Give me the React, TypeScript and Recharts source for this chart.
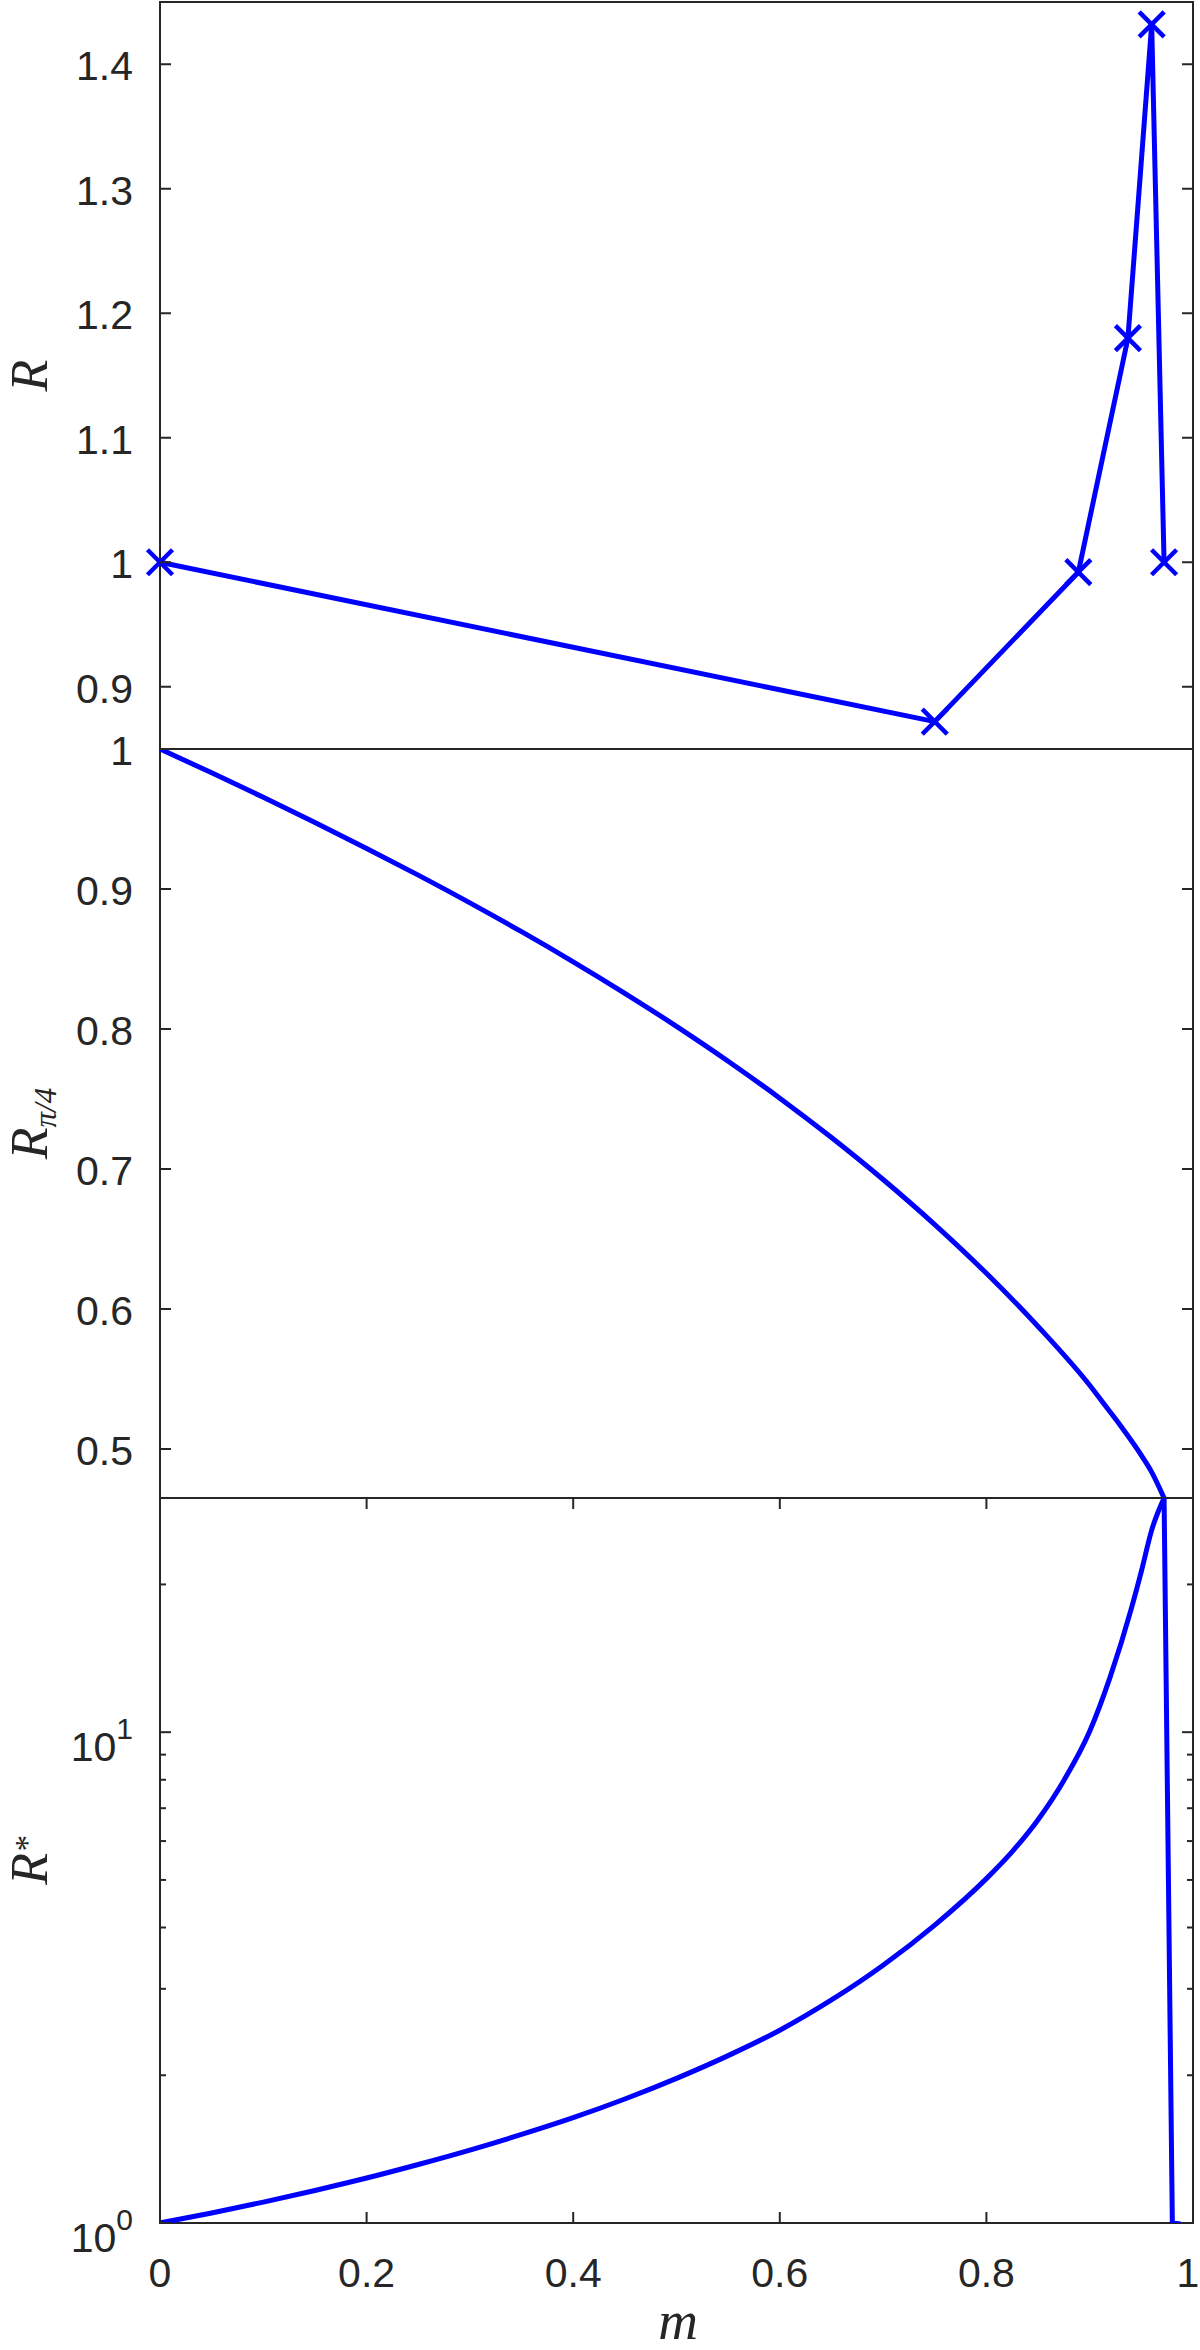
import { LineChart, Line, XAxis, YAxis, ReferenceArea, Label } from "recharts";

// top panel: R at m = 1 - 1/n^2
const mR = [0, 0.75, 0.889, 0.937, 0.96, 0.972];
const valR = [1.0, 0.872, 0.992, 1.18, 1.432, 1.0];

// middle panel: R_{pi/4}
const mQuarter = [0, 0.05, 0.1, 0.15, 0.2, 0.25, 0.3, 0.35, 0.4, 0.45, 0.5, 0.55, 0.6, 0.65, 0.7, 0.75, 0.8, 0.85, 0.9, 0.915, 0.93, 0.95, 0.96, 0.972];
const valQuarter = [1.0, 0.983, 0.9655, 0.9475, 0.929, 0.9099, 0.8901, 0.8695, 0.848, 0.8255, 0.8019, 0.777, 0.7506, 0.7225, 0.6925, 0.6603, 0.6255, 0.5875, 0.5455, 0.531, 0.5165, 0.4955, 0.4835, 0.465];

// bottom panel: R* (log axis), rising branch then the drop after the peak
const mStar = [0, 0.05, 0.1, 0.15, 0.2, 0.25, 0.3, 0.35, 0.4, 0.45, 0.5, 0.55, 0.6, 0.65, 0.7, 0.75, 0.8, 0.825, 0.85, 0.875, 0.9, 0.92, 0.94, 0.95, 0.96, 0.972, 0.98, 0.988];
const valStar = [1.0, 1.048, 1.103, 1.165, 1.235, 1.316, 1.408, 1.515, 1.639, 1.789, 1.971, 2.193, 2.47, 2.847, 3.351, 4.046, 5.031, 5.711, 6.632, 7.973, 10.04, 12.99, 17.77, 21.27, 25.8, 30.0, 1.0, 0.995];
const starPeakIndex = 25;

const xTicks = [0, 0.2, 0.4, 0.6, 0.8, 1];
const rTicks = [0.9, 1, 1.1, 1.2, 1.3, 1.4];
const quarterTicks = [0.5, 0.6, 0.7, 0.8, 0.9, 1];
const starMajor = [1, 10];
const starMinor = [2, 3, 4, 5, 6, 7, 8, 9, 20, 30];

const dataR = mR.map((m, i) => ({ m, v: valR[i] }));
const dataQuarter = mQuarter.map((m, i) => ({ m, v: valQuarter[i] }));
const dataStar = mStar.map((m, i) => ({ m, v: valStar[i] }));
const dataStarRise = dataStar.slice(0, starPeakIndex + 1);
const dataStarDrop = dataStar.slice(starPeakIndex);

const AX = "#262626";
const BLUE = "#0000ff";
const PLOT_W = 1033;
const tickFont = "'Liberation Sans', Arial, Helvetica, sans-serif";
const titleFont = "'Liberation Serif', 'Times New Roman', serif";
const TITLE_X = 47;

function xTick(plotH: number, withLabel: boolean) {
  return (p: any) => {
    const { x, y, payload } = p;
    // keep the last label inside the page edge
    const lx = payload.value === 1 ? x - 5 : x;
    return (
      <g>
        <line x1={x} y1={y} x2={x} y2={y - 11} stroke={AX} strokeWidth={2} />
        <line x1={x} y1={y - plotH} x2={x} y2={y - plotH + 11} stroke={AX} strokeWidth={2} />
        {withLabel && (
          <text x={lx} y={y + 64} textAnchor="middle" fontFamily={tickFont} fontSize={41} fill={AX}>
            {String(payload.value)}
          </text>
        )}
      </g>
    );
  };
}

function yTick(p: any) {
  const { x, y, payload } = p;
  return (
    <g>
      <line x1={x} y1={y} x2={x + 11} y2={y} stroke={AX} strokeWidth={2} />
      <line x1={x + PLOT_W} y1={y} x2={x + PLOT_W - 11} y2={y} stroke={AX} strokeWidth={2} />
      <text x={x - 27} y={y + 16} textAnchor="end" fontFamily={tickFont} fontSize={41} fill={AX}>
        {String(payload.value)}
      </text>
    </g>
  );
}

function logTick(p: any) {
  const { x, y, payload } = p;
  const v = payload.value;
  const major = starMajor.includes(v);
  const len = major ? 11 : 6;
  return (
    <g>
      <line x1={x} y1={y} x2={x + len} y2={y} stroke={AX} strokeWidth={2} />
      <line x1={x + PLOT_W} y1={y} x2={x + PLOT_W - len} y2={y} stroke={AX} strokeWidth={2} />
      {major && (
        <text x={x - 27} y={y + 29} textAnchor="end" fontFamily={tickFont} fontSize={41} fill={AX}>
          10
          <tspan fontSize={30} dy={-22}>
            {String(Math.round(Math.log10(v)))}
          </tspan>
        </text>
      )}
    </g>
  );
}

function Cross(p: any) {
  const { cx, cy } = p;
  if (cx == null || cy == null) return <g />;
  const s = 12.5;
  return (
    <g>
      <line x1={cx - s} y1={cy - s} x2={cx + s} y2={cy + s} stroke={BLUE} strokeWidth={4.5} />
      <line x1={cx - s} y1={cy + s} x2={cx + s} y2={cy - s} stroke={BLUE} strokeWidth={4.5} />
    </g>
  );
}

function yTitle(cy: number, main: string, sub: string, dy: number, subSize: number) {
  return () => (
    <text
      x={TITLE_X}
      y={cy}
      transform={`rotate(-90 ${TITLE_X} ${cy})`}
      textAnchor="middle"
      fontFamily={titleFont}
      fontStyle="italic"
      fontSize={52}
      fill={AX}
    >
      {main}
      {sub && (
        <tspan fontSize={subSize} dy={dy}>
          {sub}
        </tspan>
      )}
    </text>
  );
}

export default function App() {
  return (
    <div style={{ position: "absolute", left: 0, top: 0, width: 1200, height: 2350, background: "#fff" }}>
      <div style={{ position: "absolute", left: 0, top: 0 }}>
        <LineChart width={1200} height={760} data={dataR} margin={{ top: 2, right: 7, bottom: 11, left: 0 }}>
          <XAxis dataKey="m" type="number" domain={[0, 1]} ticks={xTicks} interval={0} height={0}
            tickSize={0} tickMargin={0} axisLine={false} tickLine={false} tick={xTick(747, false)} />
          <YAxis type="number" domain={[0.85, 1.45]} ticks={rTicks} interval={0} width={160}
            tickSize={0} tickMargin={0} axisLine={false} tickLine={false} tick={yTick}>
            <Label content={yTitle(375.5, "R", "", 0, 0)} />
          </YAxis>
          <ReferenceArea x1={0} x2={1} y1={0.85} y2={1.45} fill="none" stroke={AX} strokeWidth={2} />
          <Line dataKey="v" stroke={BLUE} strokeWidth={5} dot={Cross} isAnimationActive={false} />
        </LineChart>
      </div>
      <div style={{ position: "absolute", left: 0, top: 700 }}>
        <LineChart width={1200} height={810} data={dataQuarter} margin={{ top: 49, right: 7, bottom: 12, left: 0 }}>
          <XAxis dataKey="m" type="number" domain={[0, 1]} ticks={xTicks} interval={0} height={0}
            tickSize={0} tickMargin={0} axisLine={false} tickLine={false} tick={xTick(749, false)} />
          <YAxis type="number" domain={[0.465, 1]} ticks={quarterTicks} interval={0} width={160}
            tickSize={0} tickMargin={0} axisLine={false} tickLine={false} tick={yTick} allowDataOverflow>
            <Label content={yTitle(423.5, "R", "π/4", 9, 31)} />
          </YAxis>
          <ReferenceArea x1={0} x2={1} y1={0.465} y2={1} fill="none" stroke={AX} strokeWidth={2} />
          <Line type="monotone" dataKey="v" stroke={BLUE} strokeWidth={5} dot={false} isAnimationActive={false} />
        </LineChart>
      </div>
      <div style={{ position: "absolute", left: 0, top: 1450 }}>
        <LineChart width={1200} height={900} margin={{ top: 48, right: 7, bottom: 0, left: 0 }}>
          <XAxis dataKey="m" type="number" domain={[0, 1]} ticks={xTicks} interval={0} height={127}
            tickSize={0} tickMargin={0} axisLine={false} tickLine={false} tick={xTick(725, true)}>
            <Label
              content={() => (
                <text x={678} y={889} textAnchor="middle" fontFamily={titleFont} fontStyle="italic" fontSize={55} fill={AX}>
                  m
                </text>
              )}
            />
          </XAxis>
          <YAxis type="number" scale="log" domain={[1, 30]} ticks={[...starMajor, ...starMinor]} interval={0}
            width={160} tickSize={0} tickMargin={0} axisLine={false} tickLine={false} tick={logTick} allowDataOverflow>
            <Label content={yTitle(410.5, "R", "*", -9, 33)} />
          </YAxis>
          <ReferenceArea x1={0} x2={1} y1={1} y2={30} fill="none" stroke={AX} strokeWidth={2} />
          <Line data={dataStarRise} type="monotone" dataKey="v" stroke={BLUE} strokeWidth={5} dot={false} isAnimationActive={false} />
          <Line data={dataStarDrop} type="linear" dataKey="v" stroke={BLUE} strokeWidth={5} dot={false} isAnimationActive={false} />
        </LineChart>
      </div>
    </div>
  );
}
